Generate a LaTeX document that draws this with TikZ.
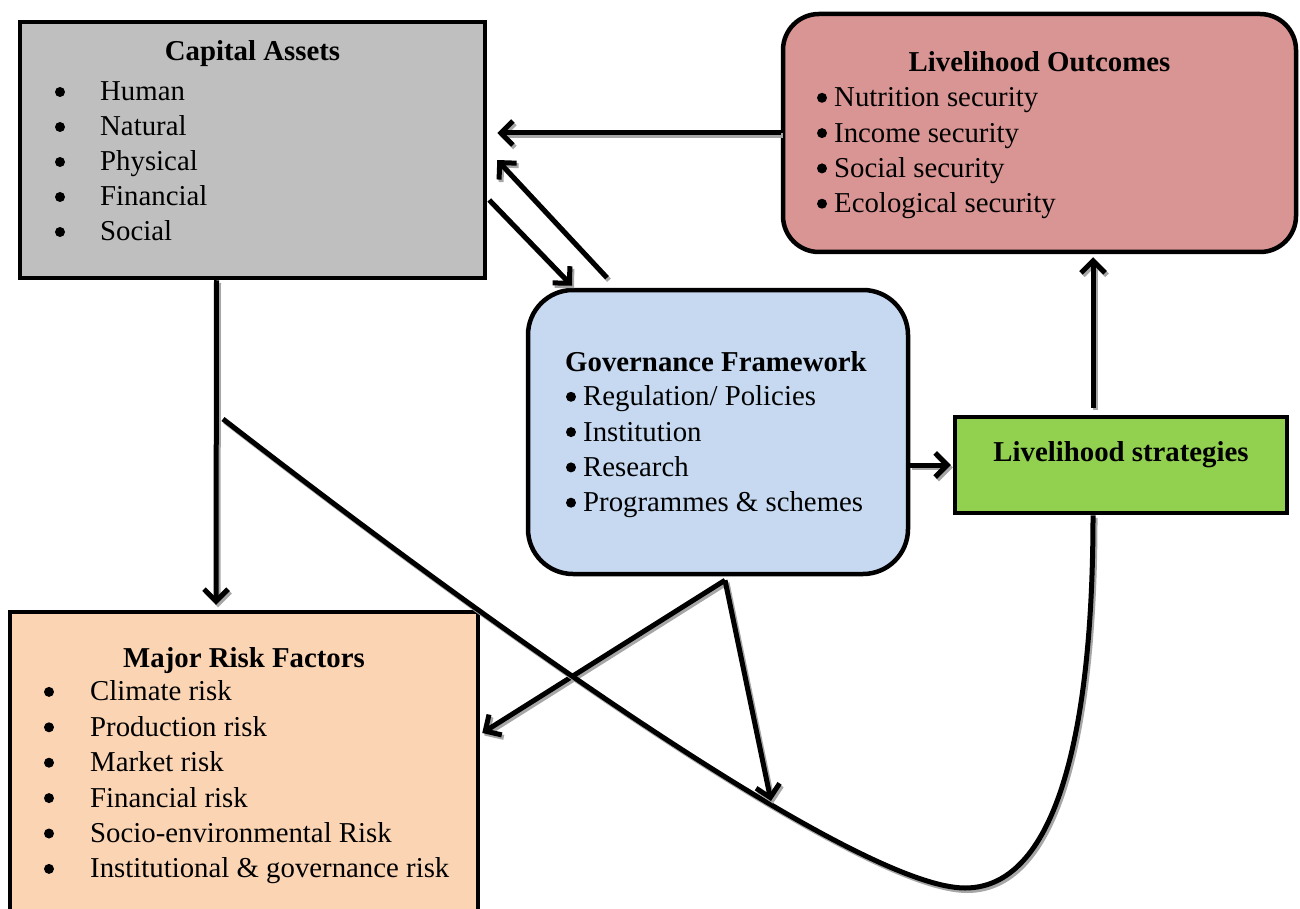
\documentclass[tikz,border=0pt]{standalone}
\usepackage{fontspec}
\setmainfont{Liberation Serif}
\usetikzlibrary{arrows.meta,calc}
\definecolor{cagray}{HTML}{BFBFBF}
\definecolor{lored}{HTML}{D99594}
\definecolor{gfblue}{HTML}{C6D9F1}
\definecolor{lsgreen}{HTML}{92D050}
\definecolor{mrforange}{HTML}{FBD4B4}
\definecolor{shadowgray}{HTML}{A6A6A6}
\tikzset{
  box/.style={draw=black, line width=4.5pt, inner sep=0pt},
  txt/.style={anchor=base west, inner sep=0pt, font=\fontsize{28.8}{35}\selectfont},
  ttl/.style={anchor=base, inner sep=0pt, font=\fontsize{28.8}{35}\selectfont\bfseries},
  bul/.style={circle, fill=black, inner sep=0pt, minimum size=10pt},
  lineshadow/.style={preaction={draw=shadowgray, line width=5pt, transform canvas={shift={(2pt,-2.5pt)}}}},
  wire/.style={line width=5pt, lineshadow},
  conn/.style={wire, -{Straight Barb[length=12pt,width=24pt]}},
}
\begin{document}
\begin{tikzpicture}[x=1pt,y=-1pt]
\useasboundingbox (0,0) rectangle (1300,909);
\fill[white] (0,0) rectangle (1300,909);

% boxes
\node[box, fill=cagray, minimum width=465pt, minimum height=256pt] (ca) at (252.5,150) {};
\node[box, fill=lored, rounded corners=36pt, minimum width=513pt, minimum height=238pt] (lo) at (1039.5,133) {};
\node[box, fill=gfblue, rounded corners=45pt, minimum width=380pt, minimum height=284pt] (gf) at (718,432) {};
\node[box, fill=lsgreen, minimum width=332pt, minimum height=96pt] (ls) at (1121,465) {};
\node[box, fill=mrforange, minimum width=468pt, minimum height=328pt] (mrf) at (244,776) {};

% Capital Assets text
\node[ttl] (cat) at (252.5,61) {Capital Assets};
\foreach \t [count=\i] in {Human,Natural,Physical,Financial,Social}{
  \node[bul] (cab\i) at (60,57+35*\i) {};
  \node[txt] (cai\i) at (100,66+35*\i) {\t};
}

% Livelihood Outcomes text
\node[ttl] (lot) at (1039.5,72) {Livelihood Outcomes};
\foreach \t [count=\i] in {Nutrition security,Income security,Social security,Ecological security}{
  \node[bul] (lob\i) at (822,62.5+35.3*\i) {};
  \node[txt] (loi\i) at (834,71.5+35.3*\i) {\t};
}

% Governance Framework text
\node[txt, font=\fontsize{28.8}{35}\selectfont\bfseries] (gft) at (565,371) {Governance Framework};
\foreach \t [count=\i] in {Regulation/ Policies,Institution,Research,Programmes \& schemes}{
  \node[bul] (gfb\i) at (571,361.5+35.3*\i) {};
  \node[txt] (gfi\i) at (583,370.5+35.3*\i) {\t};
}

% Livelihood strategies
\node[ttl] (lst) at (1121,461) {Livelihood strategies};

% Major Risk Factors text
\node[ttl] (mrft) at (244,667) {Major Risk Factors};
\foreach \t [count=\i] in {Climate risk,Production risk,Market risk,Financial risk,Socio-environmental Risk,Institutional \& governance risk}{
  \node[bul] (mrfb\i) at (49,656.5+35.4*\i) {};
  \node[txt] (mrfi\i) at (90,665.5+35.4*\i) {\t};
}

% connectors
\draw[conn] (lo.west) -- ($(ca.east |- lo.west)+(10,0)$);
\draw[conn] ($(gf.north)+(-111,-10)$) -- ($(ca.east)+(10,10)$);
\draw[conn] ($(ca.east)+(2,50)$) -- ($(gf.north)+(-146,-2)$);
\draw[conn] ($(ca.south)+(-36,0)$) -- ($(mrf.north)+(-28,-5)$);
\draw[conn] (gf.east |- ls.west) -- ($(ls.west)+(-2,0)$);
\draw[conn] ($(ls.north)+(-28,-7)$) -- ($(lo.south)+(53.5,3)$);
\draw[conn] ($(gf.south)+(7,4)$) -- ($(mrf.east)+(2,-43)$);

\coordinate (cstart) at (223,419);
\coordinate (cbot) at (965,888);
\coordinate (ctip) at (771,801);
\draw[wire] (cstart) .. controls (560,680) and (870,888) .. (cbot)
  .. controls (1060,888) and (1093,720) .. ($(ls.south)+(-28,0)$);
\draw[conn] ($(gf.south)+(7,4)$) -- (ctip);
\end{tikzpicture}
\end{document}
